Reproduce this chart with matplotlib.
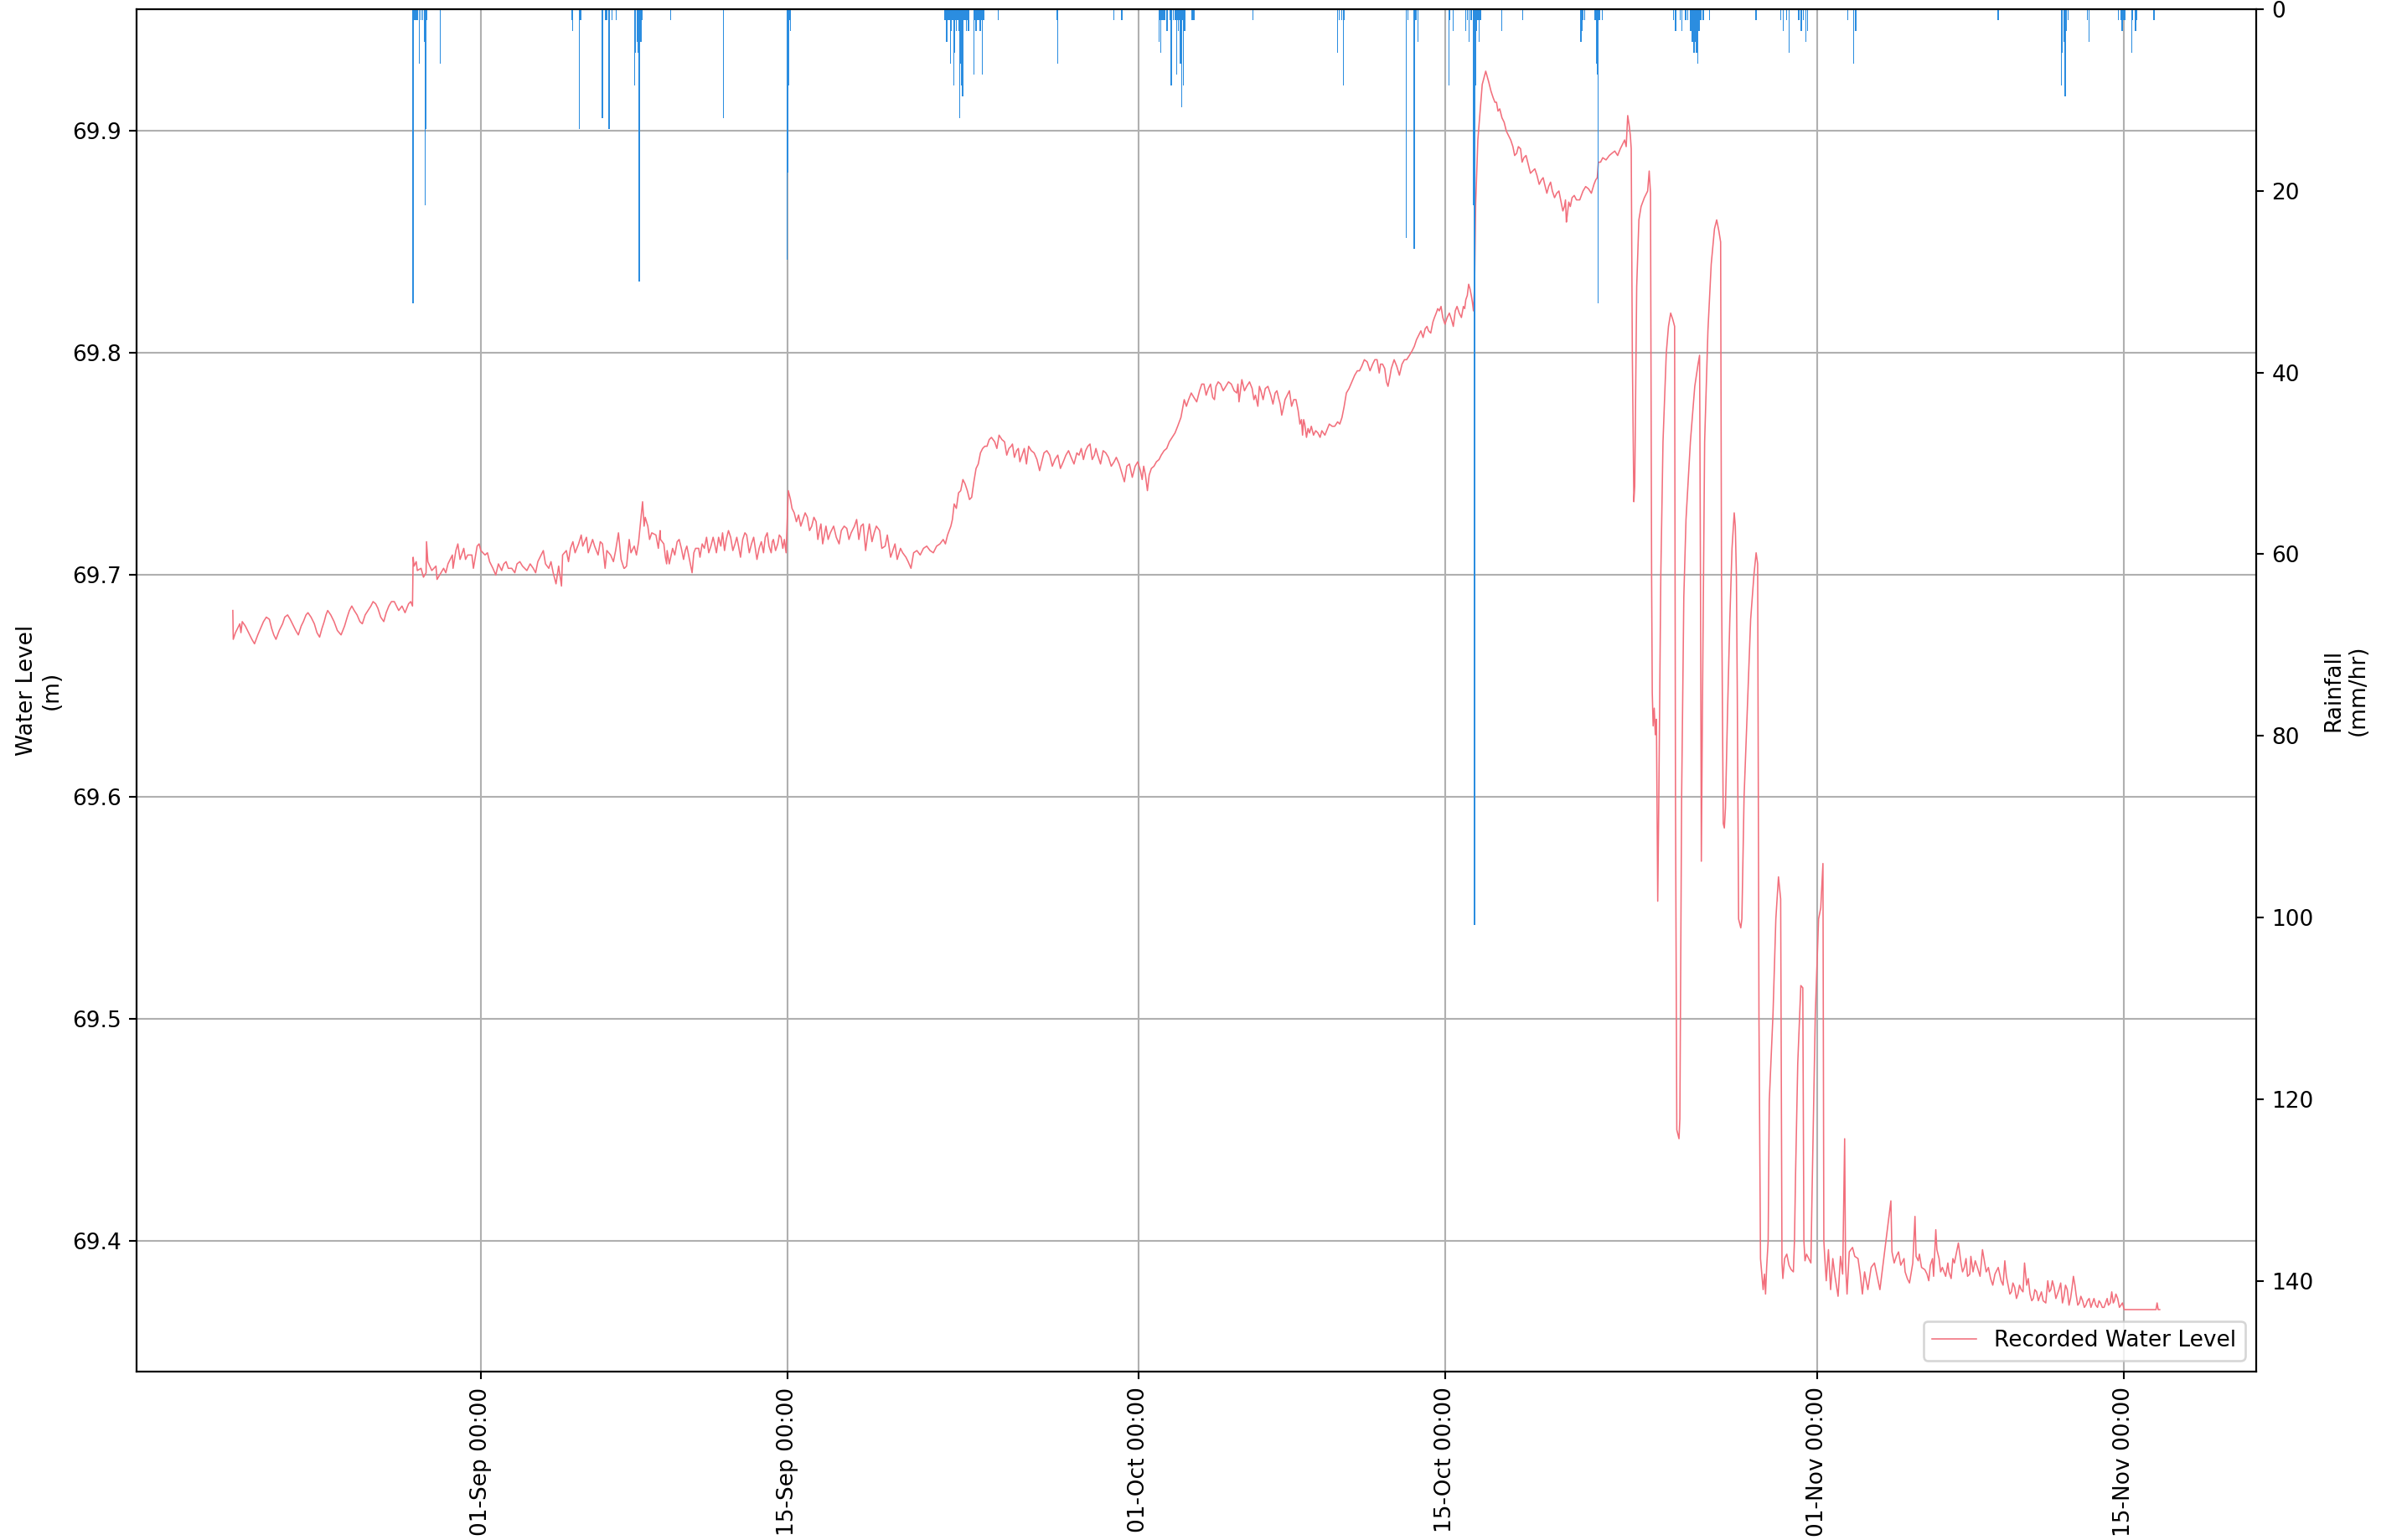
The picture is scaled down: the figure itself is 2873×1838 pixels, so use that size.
import numpy as np
import matplotlib
matplotlib.use("Agg")
import matplotlib.pyplot as plt
import matplotlib.dates as mdates

# === data: days after 01-Sep (00:00) and recorded level (m) ===
wl_day = [
    -11.32, -11.30, -11.10, -10.95, -10.89, -10.60, -10.33, -10.05, -9.79, -9.55,
    -9.35, -9.05, -8.82, -8.60, -8.33, -8.10, -7.89, -7.60, -7.36, -7.15,
    -6.99, -6.70, -6.38, -6.10, -5.89, -5.65, -5.41, -5.15, -4.92, -4.70,
    -4.43, -4.20, -3.95, -3.75, -3.46, -3.30, -3.12, -3.09, -3.05, -2.90,
    -2.73, -2.50, -2.48, -2.42, -2.24, -2.05, -1.88, -1.70, -1.50, -1.30,
    -1.14, -0.95, -0.78, -0.60, -0.41, -0.17, 0.00, 0.19, 0.40, 0.55,
    0.68, 0.80, 1.05, 1.25, 1.41, 1.65, 1.90, 2.10, 2.39, 2.60,
    2.75, 2.95, 3.10, 3.30, 3.43, 3.55, 3.73, 3.90, 4.09, 4.30,
    4.46, 4.65, 4.82, 5.00, 5.19, 5.35, 5.55, 5.75, 5.92, 6.15,
    6.40, 6.55, 6.65, 6.85, 7.00, 7.20, 7.38, 7.45, 7.62, 7.80,
    7.99, 8.20, 8.35, 8.50, 8.60, 8.75, 8.96, 9.15, 9.33, 9.50,
    9.64, 9.80, 9.94, 10.10, 10.30, 10.50, 10.67, 10.85, 11.03, 11.20,
    11.40, 11.60, 11.76, 11.95, 12.13, 12.35, 12.60, 12.80, 12.98, 13.15,
    13.35, 13.55, 13.70, 13.85, 13.93, 14.03, 14.13, 14.30, 14.50, 14.70,
    14.90, 15.10, 15.30, 15.45, 15.60, 15.75, 15.95, 16.22, 16.45, 16.70,
    16.90, 17.15, 17.35, 17.56, 17.73, 17.95, 18.20, 18.45, 18.70, 18.90,
    19.15, 19.40, 19.63, 19.90, 20.20, 20.50, 20.80, 21.10, 21.30, 21.45,
    21.60, 21.80, 22.00, 22.20, 22.40, 22.60, 22.80, 23.00, 23.20, 23.45,
    23.65, 23.90, 24.10, 24.26, 24.45, 24.60, 24.80, 25.00, 25.25, 25.50,
    25.70, 25.96, 26.20, 26.45, 26.70, 26.94, 27.20, 27.40, 27.60, 27.80,
    28.00, 28.15, 28.40, 28.64, 28.90, 29.13, 29.37, 29.60, 29.86, 30.10,
    30.25, 30.42, 30.60, 30.83, 31.05, 31.30, 31.55, 31.80, 31.95, 32.10,
    32.30, 32.54, 32.80, 33.00, 33.20, 33.40, 33.55, 33.76, 34.00, 34.25,
    34.50, 34.60, 34.73, 34.95, 35.20, 35.35, 35.46, 35.60, 35.80, 36.05,
    36.25, 36.40, 36.55, 36.70, 36.90, 37.10, 37.30, 37.45, 37.50, 37.60,
    37.75, 37.90, 38.10, 38.30, 38.45, 38.60, 38.85, 39.10, 39.30, 39.50,
    39.75, 40.00, 40.20, 40.45, 40.70, 40.90, 41.06, 41.25, 41.40, 41.55,
    41.80, 42.04, 42.25, 42.50, 42.70, 42.90, 43.10, 43.25, 43.45, 43.60,
    43.74, 43.90, 44.10, 44.30, 44.47, 44.65, 44.84, 44.95, 45.08, 45.20,
    45.30, 45.35, 45.40, 45.50, 45.70, 45.86, 46.00, 46.20, 46.35, 46.50,
    46.70, 46.90, 47.10, 47.27, 47.45, 47.60, 47.80, 48.00, 48.20, 48.40,
    48.55, 48.73, 48.90, 49.10, 49.30, 49.45, 49.54, 49.65, 49.80, 50.00,
    50.30, 50.55, 50.80, 50.95, 51.00, 51.20, 51.50, 51.75, 52.00, 52.20,
    52.34, 52.46, 52.50, 52.55, 52.62, 52.66, 52.75, 52.85, 52.95, 53.10,
    53.25, 53.32, 53.38, 53.43, 53.46, 53.50, 53.55, 53.60, 53.65, 53.71,
    53.76, 53.85, 53.95, 54.10, 54.20, 54.30, 54.40, 54.48, 54.52, 54.58,
    54.68, 54.72, 54.80, 54.90, 55.00, 55.20, 55.40, 55.55, 55.62, 55.66,
    55.70, 55.75, 55.85, 56.00, 56.15, 56.30, 56.40, 56.50, 56.58, 56.62,
    56.70, 56.75, 56.80, 56.90, 57.00, 57.10, 57.20, 57.25, 57.30, 57.34,
    57.40, 57.50, 57.55, 57.65, 57.80, 57.95, 58.10, 58.20, 58.27, 58.33,
    58.40, 58.45, 58.52, 58.58, 58.63, 58.68, 58.75, 58.80, 58.97, 59.10,
    59.22, 59.32, 59.38, 59.42, 59.50, 59.60, 59.70, 59.80, 59.90, 59.95,
    60.00, 60.10, 60.24, 60.33, 60.38, 60.43, 60.50, 60.60, 60.70, 60.75,
    60.90, 61.05, 61.15, 61.25, 61.29, 61.33, 61.40, 61.50, 61.60, 61.70,
    61.80, 61.94, 62.05, 62.15, 62.24, 62.28, 62.35, 62.45, 62.60, 62.70,
    62.85, 62.95, 63.05, 63.15, 63.30, 63.45, 63.60, 63.85, 64.35, 64.40,
    64.50, 64.60, 64.80, 64.95, 65.10, 65.20, 65.35, 65.45, 65.50, 65.60,
    65.75, 65.90, 66.00, 66.15, 66.30, 66.40, 66.45, 66.55, 66.70, 66.85,
    66.95, 67.10, 67.25, 67.43, 67.55, 67.70, 67.85, 68.00, 68.10, 68.30,
    68.53, 68.70, 68.90, 69.10, 69.38, 69.55, 69.70, 69.85, 70.00, 70.15,
    70.30, 70.45, 70.55, 70.70, 70.85, 71.00, 71.15, 71.30, 71.51, 71.65,
    71.80, 71.95, 72.10, 72.25, 72.40, 72.55, 72.68, 72.80, 72.95, 73.10,
    73.25, 73.40, 73.55, 73.70, 73.85, 74.00, 74.15, 74.28, 74.43, 74.55,
    74.70, 74.85, 75.00, 75.30, 75.60, 75.90, 76.20, 76.45, 76.50, 76.55,
    76.62,
]
wl_level = [
    69.684, 69.671, 69.676, 69.674, 69.679, 69.674, 69.669, 69.676, 69.681, 69.676,
    69.671, 69.678, 69.682, 69.678, 69.673, 69.679, 69.683, 69.678, 69.672, 69.679,
    69.684, 69.679, 69.673, 69.681, 69.686, 69.682, 69.678, 69.684, 69.688, 69.685,
    69.679, 69.686, 69.688, 69.684, 69.683, 69.687, 69.686, 69.708, 69.704, 69.702,
    69.703, 69.701, 69.715, 69.706, 69.702, 69.704, 69.700, 69.703, 69.705, 69.709,
    69.711, 69.707, 69.712, 69.709, 69.709, 69.713, 69.711, 69.709, 69.706, 69.703,
    69.700, 69.705, 69.705, 69.703, 69.703, 69.705, 69.704, 69.702, 69.703, 69.706,
    69.709, 69.705, 69.703, 69.701, 69.696, 69.704, 69.709, 69.711, 69.712, 69.710,
    69.714, 69.713, 69.717, 69.713, 69.713, 69.709, 69.714, 69.711, 69.709, 69.711,
    69.707, 69.703, 69.704, 69.710, 69.713, 69.715, 69.733, 69.722, 69.722, 69.719,
    69.718, 69.716, 69.714, 69.711, 69.705, 69.712, 69.715, 69.712, 69.711, 69.708,
    69.701, 69.712, 69.712, 69.714, 69.717, 69.713, 69.714, 69.717, 69.719, 69.716,
    69.717, 69.714, 69.713, 69.716, 69.718, 69.714, 69.707, 69.715, 69.717, 69.713,
    69.716, 69.714, 69.717, 69.716, 69.710, 69.738, 69.734, 69.728, 69.727, 69.725,
    69.726, 69.722, 69.724, 69.720, 69.714, 69.722, 69.719, 69.717, 69.720, 69.721,
    69.719, 69.725, 69.722, 69.711, 69.723, 69.719, 69.720, 69.713, 69.708, 69.714,
    69.712, 69.708, 69.703, 69.711, 69.712, 69.711, 69.713, 69.716, 69.718, 69.722,
    69.732, 69.737, 69.743, 69.738, 69.735, 69.748, 69.755, 69.758, 69.761, 69.760,
    69.763, 69.760, 69.757, 69.759, 69.756, 69.751, 69.757, 69.758, 69.755, 69.747,
    69.755, 69.754, 69.752, 69.748, 69.754, 69.753, 69.755, 69.757, 69.756, 69.759,
    69.754, 69.754, 69.756, 69.753, 69.751, 69.750, 69.742, 69.750, 69.749, 69.747,
    69.749, 69.738, 69.748, 69.751, 69.754, 69.757, 69.762, 69.767, 69.771, 69.779,
    69.779, 69.780, 69.783, 69.786, 69.784, 69.780, 69.785, 69.786, 69.785, 69.786,
    69.782, 69.778, 69.788, 69.785, 69.784, 69.781, 69.776, 69.783, 69.784, 69.781,
    69.782, 69.780, 69.772, 69.779, 69.783, 69.779, 69.774, 69.770, 69.763, 69.768,
    69.766, 69.767, 69.765, 69.762, 69.764, 69.765, 69.767, 69.769, 69.771, 69.782,
    69.787, 69.792, 69.794, 69.796, 69.795, 69.797, 69.795, 69.793, 69.785, 69.793,
    69.794, 69.795, 69.797, 69.801, 69.806, 69.810, 69.811, 69.810, 69.814, 69.818,
    69.819, 69.816, 69.816, 69.815, 69.819, 69.818, 69.821, 69.824, 69.831, 69.826,
    69.819, 69.830, 69.867, 69.896, 69.921, 69.927, 69.922, 69.915, 69.913, 69.910,
    69.904, 69.898, 69.893, 69.890, 69.892, 69.888, 69.885, 69.882, 69.880, 69.878,
    69.876, 69.875, 69.873, 69.872, 69.868, 69.866, 69.859, 69.868, 69.870, 69.869,
    69.873, 69.874, 69.876, 69.879, 69.886, 69.888, 69.889, 69.891, 69.892, 69.896,
    69.907, 69.898, 69.892, 69.800, 69.733, 69.740, 69.830, 69.860, 69.866, 69.870,
    69.873, 69.882, 69.872, 69.700, 69.647, 69.632, 69.640, 69.628, 69.635, 69.553,
    69.600, 69.700, 69.760, 69.800, 69.812, 69.818, 69.815, 69.812, 69.600, 69.450,
    69.446, 69.455, 69.600, 69.690, 69.725, 69.760, 69.785, 69.795, 69.799, 69.700,
    69.571, 69.640, 69.760, 69.810, 69.840, 69.856, 69.860, 69.855, 69.850, 69.700,
    69.588, 69.586, 69.595, 69.640, 69.680, 69.712, 69.728, 69.722, 69.700, 69.647,
    69.545, 69.541, 69.545, 69.600, 69.640, 69.680, 69.700, 69.710, 69.705, 69.500,
    69.392, 69.386, 69.378, 69.385, 69.376, 69.388, 69.400, 69.463, 69.502, 69.545,
    69.564, 69.554, 69.390, 69.383, 69.392, 69.394, 69.389, 69.387, 69.386, 69.400,
    69.430, 69.480, 69.515, 69.514, 69.400, 69.391, 69.394, 69.392, 69.390, 69.420,
    69.502, 69.545, 69.550, 69.570, 69.400, 69.393, 69.382, 69.396, 69.378, 69.392,
    69.384, 69.375, 69.393, 69.385, 69.446, 69.390, 69.376, 69.395, 69.397, 69.393,
    69.392, 69.385, 69.376, 69.386, 69.378, 69.388, 69.390, 69.378, 69.418, 69.395,
    69.390, 69.393, 69.389, 69.392, 69.383, 69.381, 69.390, 69.411, 69.393, 69.391,
    69.388, 69.387, 69.385, 69.389, 69.384, 69.405, 69.396, 69.392, 69.388, 69.384,
    69.390, 69.383, 69.390, 69.399, 69.390, 69.388, 69.384, 69.393, 69.386, 69.388,
    69.396, 69.386, 69.383, 69.385, 69.382, 69.391, 69.380, 69.377, 69.379, 69.376,
    69.378, 69.390, 69.380, 69.376, 69.374, 69.377, 69.375, 69.373, 69.382, 69.378,
    69.379, 69.376, 69.381, 69.375, 69.378, 69.374, 69.384, 69.376, 69.372, 69.373,
    69.371, 69.374, 69.372, 69.371, 69.373, 69.370, 69.372, 69.371, 69.377, 69.373,
    69.374, 69.371, 69.369, 69.369, 69.369, 69.369, 69.369, 69.369, 69.372, 69.369,
    69.369,
]

# short wiggles of the trace between the points above
wl_day_fine = [
    -11.20, -11.00, -10.75, -10.45, -10.18, -9.92, -9.65, -9.45, -9.20, -8.95,
    -8.70, -8.45, -8.20, -7.98, -7.75, -7.48, -7.25, -7.07, -6.85, -6.55,
    -6.22, -6.00, -5.78, -5.52, -5.28, -5.02, -4.80, -4.57, -4.32, -4.08,
    -3.85, -3.60, -3.38, -3.20,
    -2.95, -2.62, -2.33, -2.00, -1.60, -1.27, -1.05, -0.70, -0.34, -0.08,
    0.30, 0.95, 1.15, 1.55, 1.78, 2.25, 2.50, 2.85, 3.20, 3.68,
    4.00, 4.20, 4.58, 4.90, 5.10, 5.45, 5.67, 6.05, 6.28, 6.53,
    6.77, 7.10, 7.50, 7.70, 8.10, 8.18, 8.42, 8.48, 8.85, 9.05,
    9.25, 9.40, 9.72, 10.00, 10.20, 10.40, 10.60, 10.75, 10.95, 11.12,
    11.30, 11.50, 11.68, 11.85, 12.05, 12.25, 12.45, 12.70, 12.90, 13.07,
    13.25, 13.30, 13.45, 13.62, 13.78,
    14.20, 14.40, 14.60, 14.80, 15.00, 15.20, 15.38, 15.52, 15.85, 16.10,
    16.35, 16.58, 16.80, 17.05, 17.25, 17.45, 17.65, 17.85, 18.05, 18.30,
    18.55, 18.80, 19.00, 19.25, 19.50, 19.75, 20.05, 20.35, 20.65, 20.95,
    21.20, 21.52, 21.70, 21.90, 22.10, 22.30, 22.50, 22.70, 22.90, 23.10,
    23.30, 23.55, 23.78, 24.00, 24.20, 24.35, 24.53, 24.70, 24.90, 25.12,
    25.38, 25.60, 25.83, 26.08, 26.33, 26.58, 26.82, 27.07, 27.30, 27.50,
    27.70, 27.90, 28.07, 28.28, 28.52, 28.77, 29.00, 29.25, 29.48, 29.73,
    29.98, 30.18, 30.33, 30.50, 30.72,
    30.95, 31.18, 31.42, 31.68, 32.20, 32.42, 32.67, 32.90, 33.10, 33.30,
    33.48, 33.65, 33.88, 34.12, 34.38, 34.55, 34.85, 35.08, 35.28, 35.53,
    35.70, 35.92, 36.15, 36.33, 36.48, 36.62, 36.80, 37.00, 37.20, 37.38,
    37.55, 37.68, 37.82, 38.00, 38.20, 38.38, 38.52, 38.72, 38.97, 39.20,
    39.40, 39.62, 39.88, 40.10, 40.32, 40.58, 40.80, 41.00, 41.15, 41.33,
    41.48, 41.68, 41.92, 42.15, 42.38, 42.60, 42.80, 43.00, 43.18, 43.35,
    43.52, 43.67, 43.82, 44.00, 44.20, 44.38, 44.55, 44.75, 44.90, 45.02,
    45.14, 45.25,
    46.10, 46.28, 46.42, 46.60, 46.80, 47.00, 47.18, 47.35, 47.52, 47.70,
    47.90, 48.10, 48.30, 48.48, 48.65, 48.82, 49.00, 49.20, 49.38, 49.50,
    49.58, 49.72, 49.90, 50.15, 50.42, 50.68, 50.88, 51.10, 51.35, 51.62,
    51.88, 52.10, 52.27, 52.40,
    64.70, 65.00, 65.65, 66.08, 66.25, 66.62, 67.00, 67.18, 67.62, 67.78,
    67.95, 68.20, 68.42, 68.80, 69.00, 69.25, 69.47, 69.62, 69.78, 69.92,
    70.08, 70.22, 70.38, 70.62, 70.78, 70.92, 71.08, 71.22, 71.42, 71.58,
    71.72, 71.88, 72.02, 72.18, 72.32, 72.48, 72.62, 72.75, 72.88, 73.02,
    73.18, 73.32, 73.48, 73.62, 73.78, 73.92, 74.08, 74.22, 74.36, 74.50,
    74.62, 74.78, 74.92,
]
wl_level_fine = [
    69.674, 69.678, 69.677, 69.671, 69.673, 69.679, 69.680, 69.673, 69.675, 69.681,
    69.680, 69.675, 69.677, 69.682, 69.681, 69.674, 69.676, 69.682, 69.682, 69.675,
    69.677, 69.684, 69.684, 69.679, 69.682, 69.686, 69.687, 69.681, 69.683, 69.688,
    69.686, 69.686, 69.685, 69.688,
    69.706, 69.699, 69.704, 69.698, 69.701, 69.703, 69.714, 69.707, 69.703, 69.714,
    69.710, 69.702, 69.706, 69.701, 69.706, 69.705, 69.701, 69.711, 69.706, 69.695,
    69.706, 69.715, 69.718, 69.710, 69.716, 69.715, 69.703, 69.706, 69.719, 69.703,
    69.716, 69.709, 69.726, 69.716, 69.712, 69.720, 69.708, 69.705, 69.709, 69.716,
    69.707, 69.713, 69.710, 69.708, 69.712, 69.710, 69.717, 69.710, 69.713, 69.711,
    69.720, 69.711, 69.717, 69.708, 69.719, 69.710, 69.717, 69.712, 69.710, 69.719,
    69.710, 69.715, 69.711, 69.718, 69.712,
    69.730, 69.724, 69.722, 69.728, 69.720, 69.726, 69.716, 69.723, 69.716, 69.722,
    69.714, 69.722, 69.716, 69.722, 69.716, 69.723, 69.718, 69.715, 69.722, 69.712,
    69.718, 69.711, 69.707, 69.710, 69.706, 69.710, 69.709, 69.713, 69.710, 69.714,
    69.714, 69.725, 69.730, 69.738, 69.741, 69.734, 69.742, 69.750, 69.757, 69.758,
    69.762, 69.757, 69.761, 69.754, 69.758, 69.753, 69.757, 69.754, 69.750, 69.756,
    69.752, 69.751, 69.756, 69.749, 69.754, 69.751, 69.756, 69.750, 69.754, 69.752,
    69.758, 69.752, 69.757, 69.750, 69.755, 69.749, 69.753, 69.746, 69.749, 69.744,
    69.751, 69.743, 69.745, 69.745, 69.749,
    69.752, 69.756, 69.760, 69.764, 69.776, 69.782, 69.778, 69.786, 69.781, 69.786,
    69.779, 69.787, 69.783, 69.787, 69.783, 69.786, 69.783, 69.787, 69.779, 69.785,
    69.779, 69.785, 69.777, 69.783, 69.777, 69.775, 69.781, 69.776, 69.779, 69.768,
    69.770, 69.762, 69.764, 69.763, 69.764, 69.765, 69.763, 69.768, 69.767, 69.768,
    69.776, 69.784, 69.790, 69.792, 69.797, 69.792, 69.797, 69.791, 69.795, 69.787,
    69.789, 69.797, 69.790, 69.797, 69.799, 69.803, 69.808, 69.807, 69.812, 69.809,
    69.816, 69.820, 69.821, 69.813, 69.818, 69.812, 69.821, 69.816, 69.820, 69.826,
    69.829, 69.823,
    69.918, 69.913, 69.909, 69.906, 69.900, 69.896, 69.889, 69.893, 69.886, 69.889,
    69.881, 69.883, 69.876, 69.879, 69.872, 69.877, 69.870, 69.873, 69.864, 69.869,
    69.862, 69.866, 69.871, 69.869, 69.875, 69.872, 69.878, 69.886, 69.887, 69.890,
    69.889, 69.894, 69.893, 69.903,
    69.395, 69.386, 69.394, 69.382, 69.392, 69.386, 69.386, 69.392, 69.386, 69.392,
    69.385, 69.391, 69.384, 69.388, 69.380, 69.388, 69.380, 69.384, 69.376, 69.381,
    69.374, 69.380, 69.377, 69.383, 69.373, 69.378, 69.373, 69.377, 69.372, 69.377,
    69.382, 69.374, 69.378, 69.372, 69.380, 69.371, 69.379, 69.380, 69.371, 69.375,
    69.370, 69.373, 69.370, 69.374, 69.370, 69.372, 69.370, 69.374, 69.372, 69.372,
    69.376, 69.370, 69.372,
]

# rainfall (mm/hr), same day axis
rain_day = [
    -3.09, -3.04, -2.98, -2.90, -2.80, -2.73, -2.66, -2.58, -2.54, -2.52, -2.48, -1.85,
    4.14, 4.18, 4.20, 4.50, 4.55, 5.55, 5.67, 5.74, 5.85, 5.99, 6.18,
    7.01, 7.06, 7.13, 7.18, 7.23, 7.26, 7.30, 7.35, 8.67, 11.08,
    13.98, 14.01, 14.06, 14.10, 14.13,
    21.16, 21.20, 21.26, 21.33, 21.37, 21.43, 21.47, 21.51, 21.55, 21.58, 21.63, 21.66,
    21.70, 21.74, 21.77, 21.81, 21.85, 21.89, 21.94, 21.99, 22.03, 22.07, 22.11, 22.15,
    22.19, 22.23, 22.26, 22.50, 22.55, 22.60, 22.63, 22.67, 22.72, 22.76, 22.80, 22.84,
    22.89, 22.93, 22.97, 23.60, 26.28, 26.33, 28.90, 29.25,
    30.95, 31.00, 31.03, 31.08, 31.13, 31.20, 31.32, 31.44, 31.51, 31.61, 31.70, 31.76,
    31.80, 31.83, 31.88, 31.93, 31.98, 32.02, 32.05, 32.08, 32.12, 32.46, 32.54,
    35.24, 39.11, 39.18, 39.30, 39.36, 39.40,
    42.23, 42.30, 42.60, 42.67, 42.77, 44.18, 44.23, 44.37,
    44.96, 45.03, 45.10, 45.20, 45.30, 45.35, 45.40, 45.44, 45.50, 45.57, 45.62,
    46.60, 47.55, 50.20, 50.25, 50.30, 50.38,
    50.85, 50.90, 50.95, 51.00, 51.05, 51.17,
    54.43, 54.53, 54.74, 54.82, 54.98, 55.08, 55.19, 55.22, 55.26, 55.30, 55.34, 55.38,
    55.42, 55.47, 55.51, 55.55, 55.59, 55.63, 55.67, 55.79, 56.07,
    58.20, 59.32, 59.45, 59.58, 59.71, 60.15, 60.26, 60.36, 60.47, 60.54,
    62.37, 62.66, 62.74, 69.25,
    72.12, 72.17, 72.25, 72.30, 72.36, 72.44, 73.33, 73.40,
    74.74, 74.85, 74.90, 74.98, 75.04, 75.34, 75.39, 75.52, 75.57, 76.36,
]
rain_mm = [
    32.4, 1.2, 1.2, 1.2, 6.0, 1.2, 1.2, 3.6, 21.6, 13.2, 1.2, 6.0,
    1.2, 2.4, 1.2, 13.2, 1.2, 12.0, 1.2, 1.2, 13.2, 1.2, 1.2,
    8.4, 4.8, 3.6, 4.8, 30.0, 16.8, 3.6, 1.2, 1.2, 12.0,
    27.6, 18.0, 8.4, 1.2, 2.4,
    1.2, 1.2, 3.6, 1.2, 1.2, 6.0, 2.4, 1.2, 1.2, 8.4, 4.8, 1.2,
    2.4, 1.2, 1.2, 2.4, 12.0, 6.0, 8.4, 9.6, 1.2, 1.2, 1.2, 2.4,
    1.2, 1.2, 2.4, 7.2, 1.2, 2.4, 1.2, 1.2, 1.2, 2.4, 2.4, 1.2,
    7.2, 1.2, 1.2, 1.2, 1.2, 6.0, 1.2, 1.2,
    3.6, 1.2, 4.8, 1.2, 1.2, 1.2, 2.4, 1.2, 8.4, 1.2, 1.2, 7.2,
    1.2, 2.4, 1.2, 6.0, 10.8, 1.2, 8.4, 1.2, 2.4, 1.2, 1.2,
    1.2, 4.8, 1.2, 1.2, 8.4, 1.2,
    25.2, 1.2, 26.4, 1.2, 3.6, 8.4, 1.2, 2.4,
    2.4, 1.2, 3.6, 1.2, 21.6, 100.8, 8.4, 2.4, 1.2, 3.6, 1.2,
    2.4, 1.2, 3.6, 2.4, 1.2, 1.2,
    1.2, 6.0, 7.2, 32.4, 1.2, 1.2,
    1.2, 2.4, 1.2, 2.4, 1.2, 1.2, 2.4, 2.4, 3.6, 3.6, 4.8, 4.8,
    3.6, 4.8, 4.8, 6.0, 2.4, 1.2, 1.2, 1.2, 1.2,
    1.2, 1.2, 2.4, 1.2, 4.8, 1.2, 2.4, 1.2, 3.6, 2.4,
    1.2, 6.0, 2.4, 1.2,
    8.4, 4.8, 3.6, 9.6, 2.4, 1.2, 1.2, 3.6,
    1.2, 1.2, 2.4, 1.2, 1.2, 4.8, 1.2, 2.4, 1.2, 1.2,
]

# merge the coarse trace and the wiggles in time order
day_all = np.concatenate([wl_day, wl_day_fine])
lvl_all = np.concatenate([wl_level, wl_level_fine])
order = np.argsort(day_all, kind="stable")
day_all, lvl_all = day_all[order], lvl_all[order]

start = np.datetime64("2019-09-01T00:00")
wl_time = start + (day_all * 86400).astype("timedelta64[s]")
rain_time = start + (np.array(rain_day) * 86400).astype("timedelta64[s]")

fig = plt.figure(figsize=(2873 / 190, 1838 / 190), dpi=190)
fig.subplots_adjust(left=0.0567, right=0.9373, top=0.994, bottom=0.1094)
ax = fig.add_subplot(111)

ax.plot(wl_time, lvl_all, color="#f26f7c", lw=0.6, label="Recorded Water Level")
ax.set_ylabel("Water Level\n(m)")
ax.grid(True)
ax.xaxis.set_major_locator(mdates.DayLocator(bymonthday=[1, 15]))
ax.xaxis.set_major_formatter(mdates.DateFormatter("%d-%b %H:%M"))
ax.tick_params(axis="x", labelrotation=90)
ax.legend(loc="lower right")

# rainfall hangs from the top
ax2 = ax.twinx()
ax2.bar(rain_time, rain_mm, width=0.05, color="#2b8de0", linewidth=0)
ax2.set_ylim(150, 0)
ax2.set_ylabel("Rainfall\n(mm/hr)")

fig.savefig("out.png", dpi=190)
